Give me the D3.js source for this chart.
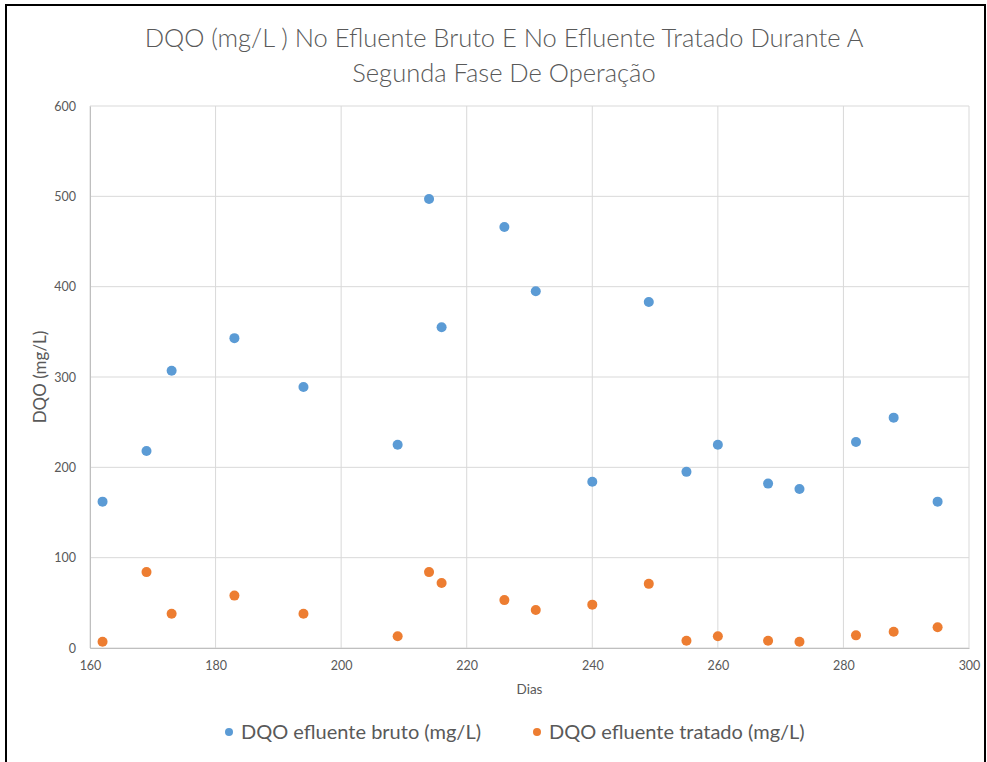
<!DOCTYPE html>
<html>
<head>
<meta charset="utf-8">
<script src="https://cdn.jsdelivr.net/npm/d3@7"></script>
<style>
  body { margin: 0; background: #fff; }
  svg { display: block; font-family: Lato, "Open Sans", sans-serif; }
</style>
</head>
<body>
<svg id="chart" width="987" height="762"></svg>
<script>
// days of sampling (same for both series)
const dias = [162, 169, 173, 183, 194, 209, 214, 216, 226, 231, 240, 249, 255, 260, 268, 273, 282, 288, 295];
// DQO raw effluent (mg/L)
const dqoBruto = [162, 218, 307, 343, 289, 225, 497, 355, 466, 395, 184, 383, 195, 225, 182, 176, 228, 255, 162];
// DQO treated effluent (mg/L)
const dqoTratado = [7, 84, 38, 58, 38, 13, 84, 72, 53, 42, 48, 71, 8, 13, 8, 7, 14, 18, 23];

const xTicks = [160, 180, 200, 220, 240, 260, 280, 300];
const yTicks = [0, 100, 200, 300, 400, 500, 600];
const titleLines = ["DQO (mg/L ) No Efluente Bruto E No Efluente Tratado Durante A", "Segunda Fase De Operação"];

const series = [
  { name: "DQO efluente bruto (mg/L)", values: dqoBruto, color: "#5b9bd5" },
  { name: "DQO efluente tratado (mg/L)", values: dqoTratado, color: "#ed7d31" }
];

const svg = d3.select("#chart");
const textColor = "#595959";

// outer frame
svg.append("rect")
  .attr("x", 6).attr("y", 5)
  .attr("width", 979).attr("height", 770)
  .attr("fill", "none")
  .attr("stroke", "#000")
  .attr("stroke-width", 2);

// plot area
const plotL = 90, plotR = 969, plotT = 106, plotB = 648;

const x = d3.scaleLinear().domain([160, 300]).range([plotL, plotR]);
const y = d3.scaleLinear().domain([0, 600]).range([plotB, plotT]);

// gridlines
svg.append("g")
  .selectAll("line")
  .data(xTicks)
  .join("line")
  .attr("x1", d => x(d)).attr("x2", d => x(d))
  .attr("y1", plotT).attr("y2", plotB)
  .attr("stroke", "#d9d9d9")
  .attr("stroke-width", 1);

svg.append("g")
  .selectAll("line")
  .data(yTicks)
  .join("line")
  .attr("x1", plotL).attr("x2", plotR)
  .attr("y1", d => y(d)).attr("y2", d => y(d))
  .attr("stroke", "#d9d9d9")
  .attr("stroke-width", 1);

// axes
const xAxis = svg.append("g")
  .attr("transform", `translate(0,${plotB})`)
  .call(d3.axisBottom(x).tickValues(xTicks).tickSize(0).tickPadding(13));
xAxis.select(".domain").attr("stroke", "#bfbfbf");
xAxis.selectAll("text").attr("fill", textColor).attr("font-size", 12.5).style("font-family", "Lato, sans-serif");

const yAxis = svg.append("g")
  .attr("transform", `translate(${plotL},0)`)
  .call(d3.axisLeft(y).tickValues(yTicks).tickSize(0).tickPadding(14));
yAxis.select(".domain").attr("stroke", "#bfbfbf");
yAxis.selectAll("text").attr("fill", textColor).attr("font-size", 12.5).style("font-family", "Lato, sans-serif");

// axis titles
svg.append("text")
  .attr("x", (plotL + plotR) / 2)
  .attr("y", 694)
  .attr("text-anchor", "middle")
  .attr("fill", textColor)
  .attr("font-size", 13.5)
  .text("Dias");

svg.append("text")
  .attr("transform", `translate(46,377) rotate(-90)`)
  .attr("text-anchor", "middle")
  .attr("fill", textColor)
  .attr("font-size", 17)
  .text("DQO (mg/L)");

// chart title
svg.append("g")
  .selectAll("text")
  .data(titleLines)
  .join("text")
  .attr("x", 504)
  .attr("y", (d, i) => 47 + i * 35)
  .attr("text-anchor", "middle")
  .attr("fill", textColor)
  .attr("font-size", 25.5)
  .attr("font-weight", 300)
  .text(d => d);

// points
series.forEach(s => {
  svg.append("g")
    .selectAll("circle")
    .data(dias.map((d, i) => [d, s.values[i]]))
    .join("circle")
    .attr("cx", d => x(d[0]))
    .attr("cy", d => y(d[1]))
    .attr("r", 5)
    .attr("fill", s.color);
});

// legend
const legendX = [229, 537];
const legend = svg.append("g")
  .selectAll("g")
  .data(series)
  .join("g")
  .attr("transform", (d, i) => `translate(${legendX[i]},732)`);
legend.append("circle")
  .attr("r", 4)
  .attr("fill", d => d.color);
legend.append("text")
  .attr("x", 12)
  .attr("y", 7)
  .attr("fill", textColor)
  .attr("font-size", 20)
  .text(d => d.name);
</script>
</body>
</html>
